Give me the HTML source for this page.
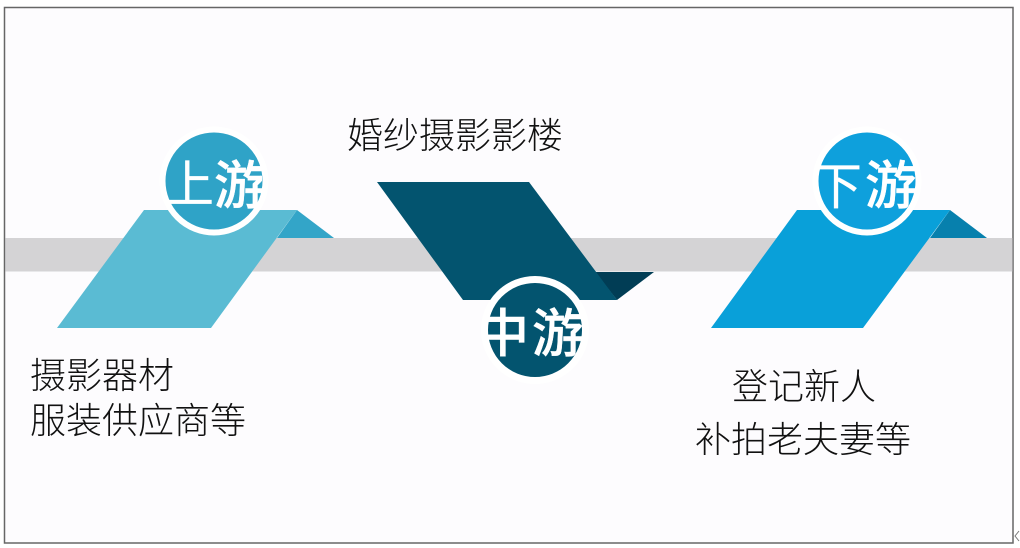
<!DOCTYPE html>
<html><head><meta charset="utf-8"><style>
html,body{margin:0;padding:0;background:#fff}
svg{display:block}
text{font-family:"Liberation Sans","Noto Sans CJK SC",sans-serif}
.d{font-size:36px;fill:#111;font-weight:300}
.w{font-size:50px;fill:#fff;font-weight:400;stroke:#fff;stroke-width:.3}
.y{font-size:52px;fill:#fff;font-weight:500;stroke:#fff;stroke-width:.4}
</style></head><body>
<svg xmlns="http://www.w3.org/2000/svg" width="1020" height="548" viewBox="0 0 1020 548">
<defs>
<clipPath id="a"><rect x="160" y="125" width="102" height="110"/></clipPath>
<clipPath id="b"><rect x="488" y="275" width="94" height="110"/></clipPath>
<clipPath id="c"><rect x="818" y="125" width="98" height="110"/></clipPath>
</defs>
<rect x="0" y="0" width="1020" height="548" fill="#fff"/>
<rect x="4.5" y="7.5" width="1008.5" height="535.5" fill="#fdfcfe" stroke="#666" stroke-width="1.5"/>
<rect x="5.5" y="238" width="1007" height="33.5" fill="#d4d3d5"/>

<path d="M297 210L334 238H277Z" fill="#33a5c8"/>
<path d="M144 210H297L211 328H57Z" fill="#5abbd3"/>
<circle cx="214" cy="181" r="51.5" fill="#2fa3c7" stroke="#fff" stroke-width="6"/>
<g clip-path="url(#a)"><text class="w" x="164" y="202">上</text><text class="y" x="214" y="204">游</text></g>

<path d="M595 272H654L617 300Z" fill="#013d55"/>
<path d="M377 182H529L617 300H463Z" fill="#03546f"/>
<circle cx="535" cy="330" r="50.5" fill="#03546f" stroke="#fff" stroke-width="7"/>
<g clip-path="url(#b)"><text class="y" x="477" y="352">中</text><text class="y" x="532" y="352">游</text></g>

<path d="M950 210L987 238H930Z" fill="#0780ad"/>
<path d="M797 210H950L863 328H711Z" fill="#09a0d9"/>
<circle cx="867" cy="181" r="51.5" fill="#0ea0dc" stroke="#fff" stroke-width="6"/>
<g clip-path="url(#c)"><text class="w" x="812" y="204">下</text><text class="y" x="865" y="204">游</text></g>

<text class="d" x="347" y="148">婚纱摄影影楼</text>
<text class="d" x="30" y="388">摄影器材</text>
<text class="d" x="30" y="433">服装供应商等</text>
<text class="d" x="732" y="399">登记新人</text>
<text class="d" x="695" y="452">补拍老夫妻等</text>
<path d="M1019 531L1015 536L1019 541" fill="none" stroke="#777" stroke-width="1"/>
</svg>
</body></html>
